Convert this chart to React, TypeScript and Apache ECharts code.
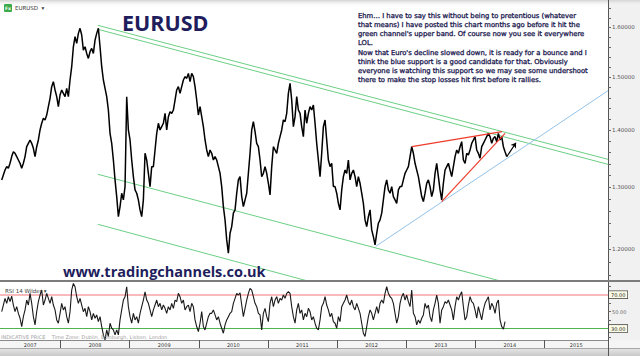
import React, { useEffect, useRef } from "react";
import * as echarts from "echarts";

// ---------- axis extents ----------
const axisStartDate = "2007-02-16";
const axisEndDate = "2015-12-03";
const priceAxisMin = 1.1512;
const priceAxisMax = 1.6578;
const rsiAxisMin = 16.5;
const rsiAxisMax = 85;

// ---------- readings (one reading every ~8.8 days starting 2007-02-25) ----------
const firstReadingDate = "2007-02-25";
const readingStepDays = 8.805;

const eurusdPrice = [
  1.3126, 1.321, 1.3296, 1.3354, 1.3325, 1.3412, 1.3529, 1.3616, 1.3587, 1.3529,
  1.347, 1.3412, 1.3325, 1.3412, 1.3529, 1.3704, 1.3764, 1.3824, 1.3764, 1.3675,
  1.3529, 1.3704, 1.3824, 1.4005, 1.4127, 1.4218, 1.4188, 1.4279, 1.4434, 1.4591,
  1.4814, 1.491, 1.4751, 1.4623, 1.4434, 1.4655, 1.4751, 1.4687, 1.4623, 1.4782,
  1.4623, 1.4943, 1.5203, 1.5602, 1.5806, 1.567, 1.5875, 1.5979, 1.5841, 1.5535,
  1.5602, 1.5468, 1.5368, 1.5502, 1.5569, 1.5468, 1.5738, 1.5875, 1.5979, 1.5602,
  1.5203, 1.4943, 1.4782, 1.4623, 1.4372, 1.3944, 1.3764, 1.347, 1.3126, 1.2845,
  1.2516, 1.2679, 1.2901, 1.2789, 1.3013, 1.4623, 1.4005, 1.3824, 1.347, 1.3182,
  1.2956, 1.2901, 1.2789, 1.2625, 1.2516, 1.2789, 1.3587, 1.347, 1.3239, 1.3013,
  1.3354, 1.3354, 1.3646, 1.3944, 1.4127, 1.4005, 1.4066, 1.4127, 1.431, 1.4005,
  1.4249, 1.4341, 1.431, 1.4372, 1.456, 1.4751, 1.4814, 1.4687, 1.4814, 1.4943,
  1.5008, 1.4975, 1.5072, 1.491, 1.5072, 1.5008, 1.4814, 1.456, 1.4279, 1.4434,
  1.4249, 1.4066, 1.3824, 1.3646, 1.3529, 1.3646, 1.3587, 1.347, 1.3529, 1.347,
  1.3354, 1.3239, 1.3013, 1.2679, 1.2462, 1.2143, 1.1935, 1.2248, 1.2354, 1.2571,
  1.2625, 1.2901, 1.3126, 1.3182, 1.2845, 1.2679, 1.2789, 1.2901, 1.3239, 1.3587,
  1.4005, 1.4157, 1.3975, 1.3764, 1.3704, 1.347, 1.3182, 1.3239, 1.3354, 1.3239,
  1.3069, 1.2873, 1.3354, 1.3704, 1.3646, 1.3587, 1.3764, 1.3884, 1.4005, 1.4188,
  1.4157, 1.431, 1.4687, 1.4878, 1.456, 1.4066, 1.4249, 1.4623, 1.4372, 1.431,
  1.4066, 1.3884, 1.4372, 1.4127, 1.431, 1.4434, 1.4372, 1.4466, 1.4127, 1.3764,
  1.347, 1.3182, 1.3587, 1.4066, 1.4188, 1.3824, 1.347, 1.3354, 1.3412, 1.3013,
  1.3013, 1.2901, 1.2733, 1.2625, 1.2956, 1.3182, 1.3296, 1.3239, 1.347, 1.3126,
  1.3239, 1.3296, 1.3182, 1.3013, 1.3182, 1.3069, 1.2901, 1.2733, 1.2462, 1.2354,
  1.2516, 1.2625, 1.2301, 1.2195, 1.2065, 1.2248, 1.2408, 1.2462, 1.2571, 1.2789,
  1.3013, 1.3126, 1.2956, 1.2901, 1.3013, 1.2845, 1.2789, 1.2733, 1.2956, 1.3013,
  1.3013, 1.3126, 1.3239, 1.3296, 1.3354, 1.3529, 1.3704, 1.3587, 1.3412, 1.3296,
  1.3182, 1.3013, 1.2845, 1.2762, 1.2901, 1.3069, 1.3126, 1.3013, 1.2845, 1.2956,
  1.3239, 1.3412, 1.3182, 1.2956, 1.2789, 1.3069, 1.3296, 1.3354, 1.3412, 1.3296,
  1.3182, 1.3354, 1.3529, 1.3646, 1.3587, 1.3704, 1.3794, 1.347, 1.3412, 1.3587,
  1.3558, 1.3646, 1.3764, 1.3824, 1.3884, 1.3646, 1.3587, 1.35, 1.3704, 1.3764,
  1.3824, 1.3884, 1.3944, 1.3884, 1.3764, 1.3854, 1.3884, 1.3794, 1.3944, 1.3824,
  1.3884, 1.3704, 1.3616, 1.3529,
];

const rsi14 = [
  50.0, 57.8, 65.7, 59.8, 67.6, 61.8, 68.4, 57.8, 50.0, 55.9,
  48.0, 42.2, 32.4, 44.1, 52.0, 63.7, 57.8, 71.6, 59.8, 44.1,
  34.3, 50.0, 61.8, 69.6, 75.5, 57.8, 63.7, 71.6, 65.7, 59.8,
  67.6, 57.8, 52.0, 40.2, 36.3, 48.0, 59.8, 52.0, 55.9, 44.1,
  36.3, 50.0, 75.5, 83.3, 79.4, 67.6, 59.8, 65.7, 57.8, 50.0,
  53.9, 44.1, 55.9, 50.0, 40.2, 48.0, 42.2, 46.1, 38.2, 44.1,
  32.4, 22.6, 16.7, 28.4, 20.6, 36.3, 30.4, 28.4, 22.6, 28.4,
  22.6, 40.2, 52.0, 63.7, 67.6, 79.4, 55.9, 44.1, 36.3, 48.0,
  40.2, 44.1, 36.3, 48.0, 55.9, 63.7, 73.5, 63.7, 59.8, 52.0,
  44.1, 52.0, 57.8, 63.7, 55.9, 59.8, 52.0, 57.8, 53.9, 48.0,
  55.9, 52.0, 59.8, 53.9, 63.7, 61.8, 71.6, 67.6, 59.8, 63.7,
  52.0, 55.9, 57.8, 50.0, 59.8, 55.9, 40.2, 32.4, 26.5, 36.3,
  50.0, 32.4, 28.4, 36.3, 44.1, 48.0,
  48.0, 52.0, 46.1, 40.2, 44.1, 36.3, 30.4, 24.5, 34.3, 40.2,
  44.1, 48.0, 50.0, 59.8, 65.7, 71.6, 69.6, 72.3, 57.8, 44.1,
  53.9, 63.7, 71.6, 77.4, 75.5, 67.6, 59.8, 55.9, 48.0, 46.1,
  28.4, 48.0, 53.9, 44.1, 38.2, 59.8, 67.6, 55.9, 63.7, 67.6,
  59.8, 65.7, 63.7, 69.6, 65.7, 71.6, 73.5, 71.6, 55.9, 44.1,
  36.3, 52.0, 59.8, 48.0, 52.0, 40.2, 48.0, 44.1, 53.9, 50.0,
  40.2, 44.1, 36.3, 30.4, 28.4, 40.2, 55.9, 59.8, 67.6, 57.8,
  52.0, 44.1, 48.0, 38.2, 36.3, 30.4, 44.1, 38.2, 55.9, 59.8,
  63.7, 69.6, 61.8, 57.8, 63.7, 55.9, 52.0, 59.8, 53.9, 48.0,
  36.3, 24.5, 20.6, 32.4, 44.1, 52.0, 48.0, 40.2, 48.0, 55.9,
  48.0, 59.8, 63.7, 59.8, 71.6, 79.4, 71.6, 67.6, 65.7, 59.8,
  48.0, 36.3, 44.1, 59.8, 67.6, 71.6, 63.7, 69.6, 61.8, 55.9,
  75.5, 48.0, 44.1, 34.3, 40.2, 36.3, 42.2, 46.1, 59.8, 53.9,
  57.8, 44.1, 38.2, 52.0, 59.8, 69.6, 59.8, 36.3, 52.0, 55.9,
  61.8, 59.8, 63.7, 57.8, 52.0, 40.2, 55.9, 67.6, 63.7, 69.6,
  73.5, 55.9, 40.2, 44.1, 57.8, 67.6, 61.8, 59.8, 52.0, 42.2,
  55.9, 48.0, 40.2, 52.0, 59.8, 63.7, 67.6, 52.0, 59.8, 55.9,
  48.0, 59.8, 63.7, 40.2, 32.4, 29.2, 38.2,
];

const lastPrice = 1.35381;

// ---------- drawn trend lines [date, price] ----------
const greenChannelUpperA: [string, number][] = [["2008-07-17", 1.6042], ["2015-12-03", 1.3481]];
const greenChannelUpperB: [string, number][] = [["2008-07-17", 1.5959], ["2015-12-03", 1.3394]];
const greenChannelLowerA: [string, number][] = [["2008-07-17", 1.3222], ["2015-12-03", 1.1094]];
const greenChannelLowerB: [string, number][] = [["2008-07-17", 1.2391], ["2015-12-03", 1.0362]];
const blueSupport: [string, number][] = [["2012-07-24", 1.2042], ["2015-12-03", 1.4737]];
const redWedgeTop: [string, number][] = [["2013-01-31", 1.3704], ["2014-05-22", 1.3974]];
const redWedgeBottom: [string, number][] = [["2013-07-07", 1.276], ["2014-06-07", 1.3944]];
const bounceArrow: [string, number][] = [["2014-06-16", 1.3527], ["2014-08-04", 1.3775]];

// ---------- tick labels ----------
const priceLabels = [1.2, 1.3, 1.4, 1.5, 1.6];
const priceMinorTicks = [1.16, 1.18, 1.2, 1.22, 1.24, 1.26, 1.28, 1.3, 1.32, 1.34, 1.36, 1.38, 1.4, 1.42, 1.44, 1.46, 1.48, 1.5, 1.52, 1.54, 1.56, 1.58, 1.6, 1.62, 1.64];
const rsiLabels = [30, 50, 70];
const rsiTicks = [20, 30, 40, 50, 60, 70, 80];
const rsiBands = [70, 30];
const years = [2007, 2008, 2009, 2010, 2011, 2012, 2013, 2014, 2015];

const annotation = [
  "Ehm… I have to say this without being to pretentious (whatever",
  "that means) I have posted this chart months ago before it hit the",
  "green channel's upper band. Of course now you see it everywhere",
  "LOL.",
  "Now that Euro's decline slowed down, it is ready for a bounce and I",
  "think the blue support is a good candidate for that. Obviously",
  "everyone is watching this support so we may see some undershoot",
  "there to make the stop losses hit first before it rallies.",
];

const DAY = 86400000;

export default function App() {
  const ref = useRef<HTMLDivElement>(null);

  useEffect(() => {
    document.body.style.margin = "0";
    const el = ref.current!;
    const chart = echarts.init(el, null, { renderer: "svg", width: 640, height: 356 });

    const xMin = Date.parse(axisStartDate);
    const xMax = Date.parse(axisEndDate);
    const t0 = Date.parse(firstReadingDate);
    const readingDate = (i: number) => t0 + i * readingStepDays * DAY;
    const ln = Math.log;

    const priceData = eurusdPrice.map((p, i) => [readingDate(i), ln(p)]);
    const rsiData = rsi14.map((r, i) => [readingDate(i), r]);
    const toLine = (pts: [string, number][]) => pts.map(([d, p]) => [Date.parse(d), ln(p)]);

    const yearStarts = years.slice(1).map((y) => Date.UTC(y, 0, 1));
    const yearLabelPos = years.map((y) => {
      const a = Math.max(Date.UTC(y, 0, 1), xMin);
      const b = Math.min(Date.UTC(y + 1, 0, 1), xMax);
      return (a + b) / 2;
    });

    const font = "DejaVu Sans";
    const navy = "#1b1a4f";
    const trend = (pts: [string, number][], color: string, width: number, z = 3) => ({
      type: "line",
      xAxisIndex: 0,
      yAxisIndex: 0,
      data: toLine(pts),
      symbol: "none",
      silent: true,
      z,
      lineStyle: { color, width },
    });

    const boxStyle = {
      backgroundColor: "#fbfbe6",
      borderColor: "#444",
      borderWidth: 0.7,
      padding: [1, 2, 1, 2],
    };

    const option: any = {
      animation: false,
      grid: [
        { left: 0, top: 0, width: 608, height: 281, outerBoundsMode: "none" },
        { left: 0, top: 282, width: 608, height: 58, outerBoundsMode: "none" },
      ],
      xAxis: [
        { type: "value", gridIndex: 0, min: xMin, max: xMax, show: false },
        {
          type: "value",
          gridIndex: 1,
          min: xMin,
          max: xMax,
          axisLine: { show: true, lineStyle: { color: "#8a8a8a", width: 1 } },
          axisTick: { show: true, customValues: yearStarts, length: 8, lineStyle: { color: "#555", width: 1 } },
          axisLabel: {
            customValues: yearLabelPos,
            formatter: (v: number) => String(new Date(v).getUTCFullYear()),
            fontSize: 5,
            fontFamily: font,
            color: "#333",
            margin: 2,
            hideOverlap: false,
            showMinLabel: true,
            showMaxLabel: true,
          },
          splitLine: { show: false },
        },
      ],
      yAxis: [
        {
          type: "value",
          gridIndex: 0,
          position: "right",
          min: ln(priceAxisMin),
          max: ln(priceAxisMax),
          axisLine: { show: true, lineStyle: { color: "#555", width: 1 } },
          axisTick: { show: true, customValues: priceMinorTicks.map(ln), length: 3, lineStyle: { color: "#666" } },
          axisLabel: {
            customValues: priceLabels.map(ln),
            formatter: (v: number) => Math.exp(v).toFixed(5),
            fontSize: 5.5,
            fontFamily: font,
            color: "#555",
            margin: 4,
          },
          splitLine: { show: false },
        },
        {
          type: "value",
          gridIndex: 1,
          position: "right",
          min: rsiAxisMin,
          max: rsiAxisMax,
          axisLine: { show: true, lineStyle: { color: "#555", width: 1 } },
          axisTick: { show: true, customValues: rsiTicks, length: 3, lineStyle: { color: "#666" } },
          axisLabel: {
            customValues: rsiLabels,
            formatter: (v: number) => (v === 50 ? "{p|" + v.toFixed(2) + "}" : "{b|" + v.toFixed(2) + "}"),
            fontSize: 5,
            fontFamily: font,
            color: "#333",
            margin: 1,
            rich: {
              b: { ...boxStyle, fontSize: 5, fontFamily: font, color: "#222" },
              p: { fontSize: 5, fontFamily: font, color: "#666", padding: [0, 0, 0, 3] },
            },
          },
          splitLine: { show: false },
        },
      ],
      series: [
        trend(greenChannelUpperA, "#6ccf84", 1),
        trend(greenChannelUpperB, "#6ccf84", 1),
        trend(greenChannelLowerA, "#6ccf84", 1),
        trend(greenChannelLowerB, "#6ccf84", 1),
        trend(blueSupport, "#93c3ea", 1),
        trend(redWedgeTop, "#ef3b2c", 1.2, 6),
        {
          ...trend(redWedgeBottom, "#ef3b2c", 1.2, 6),
          markLine: {
            silent: true,
            symbol: ["none", "arrow"],
            symbolSize: 5,
            label: { show: false },
            lineStyle: { color: "#000", width: 1.2, type: "solid" },
            data: [toLine(bounceArrow).map((c) => ({ coord: c }))],
          },
        },
        {
          type: "line",
          xAxisIndex: 0,
          yAxisIndex: 0,
          data: priceData,
          symbol: "none",
          silent: true,
          z: 5,
          lineStyle: { color: "#000", width: 1.5 },
          markLine: {
            silent: true,
            symbol: "none",
            data: [
              {
                yAxis: ln(lastPrice),
                lineStyle: { width: 0, opacity: 0 },
                label: {
                  show: true,
                  position: "end",
                  distance: 1,
                  formatter: lastPrice.toFixed(5),
                  fontSize: 5.5,
                  fontFamily: font,
                  color: "#222",
                  ...boxStyle,
                },
              },
            ],
          },
        },
        {
          type: "line",
          xAxisIndex: 1,
          yAxisIndex: 1,
          data: rsiData,
          symbol: "none",
          silent: true,
          z: 5,
          lineStyle: { color: "#1a1a1a", width: 1.1 },
          markLine: {
            silent: true,
            symbol: "none",
            label: { show: false },
            data: rsiBands.map((v) => ({
              yAxis: v,
              lineStyle: v === 70 ? { color: "#f6a3a3", width: 1.6, type: "solid" } : { color: "#4fb44f", width: 1, type: "solid" },
            })),
          },
        },
      ],
      graphic: [
        { type: "rect", z: -10, shape: { x: 608, y: 0, width: 32, height: 356 }, style: { fill: "#f1f1f1" } },
        {
          type: "rect", z: -9, shape: { x: 0, y: 0, width: 640, height: 7 },
          style: { fill: new echarts.graphic.LinearGradient(0, 0, 0, 1, [{ offset: 0, color: "#d4d4d4" }, { offset: 1, color: "rgba(255,255,255,0)" }]) },
        },
        { type: "rect", z: -9, shape: { x: 0, y: 340, width: 640, height: 9 }, style: { fill: "#f5f5f5" } },
        {
          type: "rect", z: -9, shape: { x: 0, y: 349, width: 640, height: 7 },
          style: { fill: new echarts.graphic.LinearGradient(0, 0, 0, 1, [{ offset: 0, color: "#e3e3e3" }, { offset: 1, color: "#c9c9c9" }]) },
        },
        { type: "line", z: 20, shape: { x1: 0, y1: 281, x2: 640, y2: 281 }, style: { stroke: "#7c7c7c", lineWidth: 2 } },
        { type: "line", z: 20, shape: { x1: 0, y1: 348.5, x2: 640, y2: 348.5 }, style: { stroke: "#a8a8a8", lineWidth: 1 } },
        { type: "line", z: 20, shape: { x1: 608.5, y1: 340, x2: 608.5, y2: 356 }, style: { stroke: "#555", lineWidth: 1 } },
        // header
        { type: "rect", z: 20, shape: { x: 4, y: 4, width: 8, height: 8, r: 1 }, style: { fill: "#3daa4a" } },
        { type: "text", z: 21, x: 8, y: 8, style: { text: "Fx", fill: "#fff", font: "bold 4.5px DejaVu Sans", align: "center", verticalAlign: "middle" } },
        { type: "text", z: 20, x: 15, y: 8, style: { text: "EURUSD  ▾", fill: "#333", font: "5.5px DejaVu Sans", verticalAlign: "middle" } },
        // title
        { type: "text", z: 20, x: 122, y: 22, style: { text: "EURUSD", fill: "#211d5c", font: "bold 21.5px 'Open Sans'", verticalAlign: "middle" } },
        // annotation
        {
          type: "text", z: 20, x: 358, y: 11.4,
          style: {
            text: annotation.join("\n"), fill: navy, stroke: navy, lineWidth: 0.3,
            font: "6.8px DejaVu Sans", lineHeight: 9.15, verticalAlign: "top",
          },
        },
        // url
        { type: "text", z: 20, x: 63, y: 271, style: { text: "www.tradingchannels.co.uk", fill: "#211d5c", font: "bold 14.5px 'Open Sans'", verticalAlign: "middle" } },
        // RSI pane texts
        { type: "text", z: 20, x: 5, y: 290.5, style: { text: "RSI 14 Wilder ▾", fill: "#444", font: "5.5px DejaVu Sans", verticalAlign: "middle" } },
        {
          type: "text", z: 20, x: 1, y: 337.4,
          style: { text: "INDICATIVE PRICE    Time Zone: Dublin, Edinburgh, Lisbon, London", fill: "#a0a0a0", font: "5px DejaVu Sans", verticalAlign: "middle" },
        },
      ],
    };

    chart.setOption(option);
    return () => chart.dispose();
  }, []);

  return (
    <div
      ref={ref}
      style={{ position: "absolute", left: 0, top: 0, width: 640, height: 356, background: "#fff" }}
    />
  );
}
